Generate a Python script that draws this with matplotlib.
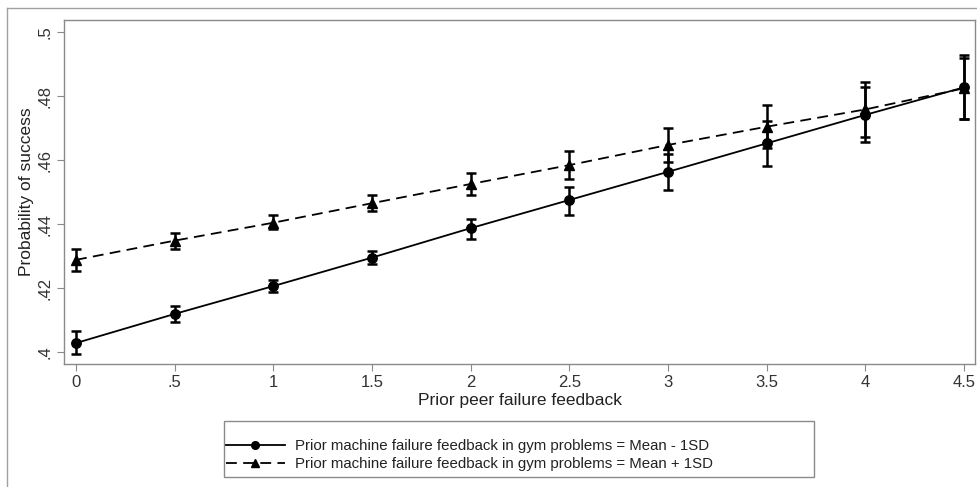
"""Predicted probability of success vs prior peer failure feedback,
at two levels of prior machine failure feedback (Stata-style margins plot)."""

import matplotlib

matplotlib.use("Agg")
import matplotlib.pyplot as plt
from matplotlib.lines import Line2D
from matplotlib.patches import Rectangle

plt.rcParams["font.family"] = ["Liberation Sans", "DejaVu Sans"]

# x positions (prior peer failure feedback)
peer_feedback = [0, 0.5, 1, 1.5, 2, 2.5, 3, 3.5, 4, 4.5]

# Mean - 1SD series (circles): estimate and CI bounds
low_est = [0.4028, 0.4119, 0.4206, 0.4295, 0.4387, 0.4475, 0.4563, 0.4652, 0.4741, 0.4827]
low_lo = [0.3995, 0.4093, 0.4189, 0.4275, 0.4353, 0.4428, 0.4506, 0.4582, 0.4657, 0.4727]
low_hi = [0.4065, 0.4144, 0.4225, 0.4316, 0.4415, 0.4517, 0.4620, 0.4722, 0.4827, 0.4927]

# Mean + 1SD series (triangles)
high_est = [0.4288, 0.4348, 0.4404, 0.4465, 0.4525, 0.4584, 0.4647, 0.4704, 0.4758, 0.4824]
high_lo = [0.4253, 0.4321, 0.4383, 0.4441, 0.4491, 0.4540, 0.4593, 0.4636, 0.4671, 0.4728]
high_hi = [0.4322, 0.4373, 0.4429, 0.4490, 0.4558, 0.4628, 0.4701, 0.4772, 0.4845, 0.4920]

x_ticks = [0, 0.5, 1, 1.5, 2, 2.5, 3, 3.5, 4, 4.5]
x_ticklabels = ["0", ".5", "1", "1.5", "2", "2.5", "3", "3.5", "4", "4.5"]
y_ticks = [0.40, 0.42, 0.44, 0.46, 0.48, 0.50]
y_ticklabels = [".4", ".42", ".44", ".46", ".48", ".5"]

labels = [
    "Prior machine failure feedback in gym problems = Mean - 1SD",
    "Prior machine failure feedback in gym problems = Mean + 1SD",
]

GRAY = "#8a8a8a"
W, H = 977, 487

fig = plt.figure(figsize=(W / 100, H / 100), dpi=100)
ax = fig.add_axes([64 / W, 1 - 364 / H, (975 - 64) / W, (364 - 20) / H])

# outer frame of the graph region
fig.add_artist(Line2D([7 / W, 7 / W], [0, 1 - 8 / H], transform=fig.transFigure, color="#a0a0a0", lw=1))
fig.add_artist(Line2D([7 / W, 1], [1 - 8 / H, 1 - 8 / H], transform=fig.transFigure, color="#a0a0a0", lw=1))


def err(est, lo, hi):
    return [[e - l for e, l in zip(est, lo)], [h - e for e, h in zip(est, hi)]]


ax.errorbar(peer_feedback, low_est, yerr=err(low_est, low_lo, low_hi), fmt="none",
            ecolor="black", elinewidth=1.8, capsize=3.5, capthick=1.8, zorder=2)
ax.errorbar(peer_feedback, high_est, yerr=err(high_est, high_lo, high_hi), fmt="none",
            ecolor="black", elinewidth=1.8, capsize=3.5, capthick=1.8, zorder=2)
ax.plot(peer_feedback, low_est, color="black", lw=1.3, marker="o", ms=6.8, zorder=3, label=labels[0])
ax.plot(peer_feedback, high_est, color="black", lw=1.3, ls=(0, (6, 3.5)), marker="^", ms=6.8, zorder=3,
        label=labels[1])

ax.set_xlim(-0.061, 4.556)
ax.set_ylim(0.39625, 0.50375)
ax.set_xticks(x_ticks)
ax.set_xticklabels(x_ticklabels)
ax.set_yticks(y_ticks)
ax.set_yticklabels(y_ticklabels, rotation=90, va="center")
ax.tick_params(axis="both", direction="out", length=5, color=GRAY, labelsize=12, labelcolor="#333333", pad=3)
for s in ax.spines.values():
    s.set_color(GRAY)
    s.set_linewidth(1)

ax.set_xlabel("Prior peer failure feedback", fontsize=12.5, color="#222222", labelpad=2)
ax.set_ylabel("Probability of success", fontsize=12.5, color="#222222", labelpad=3)

# Stata-style legend: fixed-width box with entries on the left
fig.add_artist(Rectangle((224 / W, 1 - 477 / H), (814 - 224) / W, (477 - 421) / H,
                         transform=fig.transFigure, fill=False, edgecolor=GRAY, lw=1))
leg = fig.legend(loc="center left", bbox_to_anchor=(226 / W, 1 - 455 / H), ncol=1, fontsize=10.8,
                 frameon=False, handlelength=3.9, numpoints=1, borderpad=0,
                 labelspacing=0.3, handletextpad=0.7, borderaxespad=0)
for h in leg.legend_handles:
    h.set_markersize(5.5)
for t in leg.get_texts():
    t.set_color("#222222")

fig.savefig("out.png", dpi=100)
